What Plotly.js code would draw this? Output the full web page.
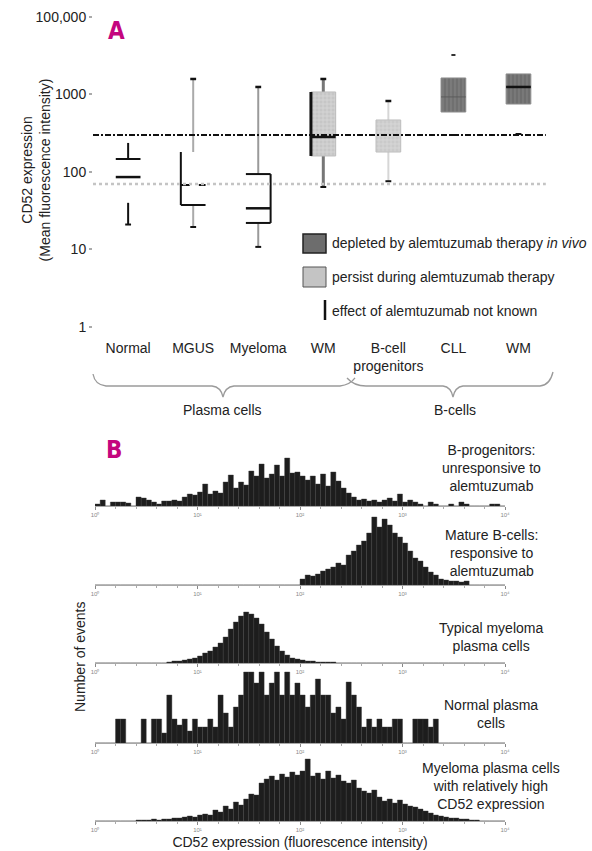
<!DOCTYPE html>
<html><head><meta charset="utf-8">
<script src="https://cdn.plot.ly/plotly-3.0.1.min.js"></script>
<style>body{margin:0;background:#fff}#chart{width:592px;height:851px}</style>
</head><body><div id="chart"></div>
<script>
// ---------- Panel A data ----------
const categories = ['Normal','MGUS','Myeloma','WM','B-cell<br>progenitors','CLL','WM'];
const lowerWhisker = [21, 19.5, 10.8, 64, 76, 300, 309];
const q1Values = [40, 37.5, 22, 161, 181, 594, 753];
const medianValues = [86, 68, 34, 283, null, 930, 1250];
const q3Values = [147, 181, 94, 1077, 469, 1633, 1840];
const upperWhisker = [237, 1585, 1250, 1585, 824, null, null];
const outlierValues = [null, null, null, null, null, 3230, null];
const therapyEffect = ['unknown','unknown','unknown','persist','persist','depleted','depleted'];
const refHigh = 300;
const refLow = 70;
const yTickVals = [1, 10, 100, 1000, 10000];
const yTickText = ['1', '10', '100', '1000', '100,000'];

// ---------- Panel B data (events per log-intensity bin, 80 bins over 10^0..10^4) ----------
const histTickText = ['10\u2070','10\u00b9','10\u00b2','10\u00b3','10\u2074'];
const bProgenitors = [2,6,0,4,4,4,3,0,9,8, 6,4,2,5,5,6,5,9,12,11, 14,22,12,15,13,24,31,18,24,21,
  35,30,42,28,32,41,30,48,33,34, 30,26,30,22,32,20,34,25,18,13, 9,6,7,5,6,4,6,8,5,12,
  4,6,4,2,0,4,2,0,0,2, 0,4,2,0,0,0,0,2,2,0];
const matureBCells = [0,0,0,0,0,0,0,0,0,0, 0,0,0,0,0,0,0,0,0,0, 0,0,0,0,0,0,0,0,0,0,
  0,0,0,0,0,0,0,0,0,0, 6,10,9,11,14,16,18,22,20,30, 34,40,44,52,68,58,66,60,52,48,
  42,34,27,24,18,13,10,6,5,4, 4,3,4,0,0,0,0,0,0,0];
const typicalMyeloma = [0,0,0,0,0,0,0,0,0,0, 0,0,0,0,1,2,2,3,4,5, 7,10,12,16,20,26,34,41,47,51,
  49,45,39,31,24,17,12,8,5,4, 3,2,2,1,1,1,1,0,0,0, 0,0,0,0,0,0,0,0,0,0,
  0,0,0,0,0,0,0,0,0,0, 0,0,0,0,0,0,0,0,0,0];
const normalPlasma = [0,0,0,0,24,24,0,0,0,24, 0,24,24,10,48,24,18,24,12,24, 16,16,24,16,48,30,16,36,48,71,
  71,60,71,48,60,71,48,71,48,60, 48,36,48,64,48,48,30,36,24,61, 48,36,16,24,16,24,16,16,24,24,
  0,0,24,24,24,16,24,0,0,0, 0,0,0,0,0,0,0,0,0,0];
const highCD52Myeloma = [0,0,0,0,0,0,0,0,1,1, 1,2,1,2,2,3,3,4,5,4, 6,7,6,11,9,15,12,19,16,22,
  27,26,38,42,45,41,47,44,49,46, 50,62,45,48,42,50,43,46,40,38, 41,33,30,28,31,24,20,22,18,21,
  17,15,14,12,10,8,6,5,4,3, 3,2,2,1,1,0,0,0,0,0];
const histSeries = [bProgenitors, matureBCells, typicalMyeloma, normalPlasma, highCD52Myeloma];
const histLabels = [
  'B-progenitors:<br>unresponsive to<br>alemtuzumab',
  'Mature B-cells:<br>responsive to<br>alemtuzumab',
  'Typical myeloma<br>plasma cells',
  'Normal plasma<br>cells',
  'Myeloma plasma cells<br>with relatively high<br>CD52 expression'
];

// ---------- helpers ----------
const FW = 592, FH = 851;
const FONT = '"Liberation Sans", Arial, sans-serif';
const px = x => x / FW;
const py = y => 1 - y / FH;
const traces = [];

function seg(xs, ys, color, width, dash) {
  traces.push({type:'scatter', mode:'lines', x:xs, y:ys, xaxis:'x', yaxis:'y',
    line:{color:color, width:width, dash:dash || 'solid'}, hoverinfo:'skip', showlegend:false});
}

// styling per category (not data)
const boxStyle = [
  {fill:null, whisker:'#111', lines:['q3','median'], edge:null, upperCap:false},
  {fill:null, whisker:'#aaa', lines:['q1','medianDash'], edge:'left', upperCap:true},
  {fill:null, whisker:'#9a9a9a', lines:['q3','median','q1'], edge:'right', upperCap:true},
  {fill:'#c6c6c6', pat:'+', fg:'#d8d8d8', edgeLine:'#bbb', whisker:'#777', lines:['median'], edge:'left', upperCap:true},
  {fill:'#cacaca', pat:'+', fg:'#dadada', edgeLine:'#bdbdbd', whisker:'#d6d6d6', lines:[], edge:null, upperCap:true},
  {fill:'#707070', pat:'|', fg:'#7f7f7f', edgeLine:'#8c8c8c', whisker:null, lines:['medianFaint'], edge:null, upperCap:false},
  {fill:'#6e6e6e', pat:'|', fg:'#7d7d7d', edgeLine:'#8c8c8c', whisker:null, lines:['median'], edge:null, upperCap:false}
];
const W = 0.19, CAP = 0.045;

categories.forEach((c, i) => {
  const s = boxStyle[i];
  const q1 = q1Values[i], q3 = q3Values[i], med = medianValues[i];
  if (s.whisker) {
    if (upperWhisker[i] != null) seg([i, i], [q3, upperWhisker[i]], s.whisker, i === 3 ? 3 : 2);
    if (lowerWhisker[i] != null) seg([i, i], [q1, lowerWhisker[i]], s.whisker, i === 3 ? 3 : 2);
  }
  if (s.fill) {
    traces.push({type:'scatter', mode:'lines', x:[i-W, i+W, i+W, i-W, i-W], y:[q1, q1, q3, q3, q1],
      xaxis:'x', yaxis:'y', fill:'toself', fillcolor:s.fill,
      fillpattern:{shape:s.pat, bgcolor:s.fill, fgcolor:s.fg, size:4, solidity:0.35},
      line:{color:s.edgeLine, width:1}, hoverinfo:'skip', showlegend:false});
  }
  if (s.edge === 'left') seg([i-W, i-W], [q1, q3], '#111', i === 3 ? 3 : 2);
  if (s.edge === 'right') seg([i+W, i+W], [q1, q3], '#111', 2);
  s.lines.forEach(l => {
    if (l === 'q3') seg([i-W, i+W], [q3, q3], '#111', 2);
    if (l === 'q1') seg([i-W, i+W], [q1, q1], '#111', 2);
    if (l === 'median') seg([i-W, i+W], [med, med], '#111', 2.5);
    if (l === 'medianDash') seg([i-W, i+W], [med, med], '#111', 2, 'dash');
    if (l === 'medianFaint') seg([i-W, i+W], [med, med], '#5c5c5c', 1);
  });
  if (lowerWhisker[i] != null) seg([i-CAP, i+CAP], [lowerWhisker[i], lowerWhisker[i]], '#111', 2);
  if (s.upperCap && upperWhisker[i] != null) seg([i-CAP, i+CAP], [upperWhisker[i], upperWhisker[i]], '#111', 2.5);
  if (outlierValues[i] != null) seg([i-CAP*0.7, i+CAP*0.7], [outlierValues[i], outlierValues[i]], '#333', 2);
});

// reference lines
seg([-0.54, 6.42], [refHigh, refHigh], '#111', 1.8, '6px,2px,2px,2px');
seg([-0.54, 6.42], [refLow, refLow], '#c4c4c4', 2.5, 'dot');

// ---------- Panel B histograms ----------
const binCenters = bProgenitors.map((_, i) => (i + 0.5) * 0.05);
const histPix = [[452, 506], [512, 585], [608, 663], [668, 743], [755, 821]];
histSeries.forEach((arr, k) => {
  traces.push({type:'bar', x:binCenters, y:arr, width:0.05, xaxis:'x' + (k + 2), yaxis:'y' + (k + 2),
    marker:{color:'#1d1d1d', line:{color:'#3a3a3a', width:0.4}}, hoverinfo:'skip', showlegend:false});
});

const layout = {
  width: FW, height: FH,
  margin: {l:0, r:0, t:0, b:0},
  paper_bgcolor:'#fff', plot_bgcolor:'rgba(0,0,0,0)',
  font: {family: FONT, size: 14, color:'#222'},
  bargap: 0,
  showlegend: false,
  xaxis: {domain:[px(93), px(551)], range:[-0.54, 6.5], anchor:'y',
    tickmode:'array', tickvals:categories.map((_, i) => i), ticktext:categories,
    showgrid:false, zeroline:false, showline:false, ticks:'', ticklabelstandoff:8,
    tickfont:{size:14, color:'#222'}},
  yaxis: {domain:[py(330), py(10)], type:'log', range:[-0.0387, 4.09], anchor:'x',
    tickmode:'array', tickvals:yTickVals, ticktext:yTickText,
    showgrid:false, zeroline:false, showline:false, ticks:'outside', ticklen:3, tickwidth:2, tickcolor:'#aaa',
    tickfont:{size:14, color:'#222'},
    title:{text:'CD52 expression<br>(Mean fluorescence intensity)', font:{size:14, color:'#222'}}},
  shapes: [],
  annotations: []
};

histPix.forEach((p, k) => {
  const n = k + 2;
  layout['xaxis' + n] = {domain:[px(95), px(505)], range:[0, 4], anchor:'y' + n,
    tickmode:'array', tickvals:[0,1,2,3,4], ticktext:histTickText,
    showgrid:false, zeroline:false, showline:true, linecolor:'#a8a8a8', linewidth:1,
    ticks:'outside', ticklen:3, tickcolor:'#888', tickfont:{size:6, color:'#8a8a8a'},
    minor:{tickmode:'linear', tick0:0, dtick:0.2, ticks:'outside', ticklen:2, tickcolor:'#aaa'}};
  layout['yaxis' + n] = {domain:[py(p[1]), py(p[0])], range:[0, p[1] - p[0]], anchor:'x' + n, visible:false, fixedrange:true};
});
layout.xaxis6.title = {text:'CD52 expression (fluorescence intensity)', font:{size:14, color:'#222'}, standoff:4};

function note(x, y, text, extra) {
  layout.annotations.push(Object.assign({xref:'paper', yref:'paper', x:px(x), y:py(y), text:text,
    xanchor:'center', yanchor:'middle', showarrow:false, font:{size:14, color:'#222'}}, extra || {}));
}

// legend (panel A)
layout.shapes.push({type:'rect', xref:'paper', yref:'paper', x0:px(303), x1:px(326), y0:py(253), y1:py(234),
  fillcolor:'#6d6d6d', line:{color:'#222', width:1.5}});
layout.shapes.push({type:'rect', xref:'paper', yref:'paper', x0:px(303), x1:px(326), y0:py(287), y1:py(267),
  fillcolor:'#c4c4c4', line:{color:'#555', width:1}});
layout.shapes.push({type:'line', xref:'paper', yref:'paper', x0:px(325), x1:px(325), y0:py(320), y1:py(300),
  line:{color:'#111', width:2.5}});
const legendTexts = ['depleted by alemtuzumab therapy <i>in vivo</i>', 'persist during alemtuzumab therapy', 'effect of alemtuzumab not known'];
[243, 277, 311].forEach((y, k) => note(330, y, legendTexts[k], {xanchor:'left'}));

// braces
function pathStr(cmds) {
  return cmds.map(c => {
    const pts = [];
    for (let j = 1; j < c.length; j += 2) pts.push(px(c[j]).toFixed(5) + ',' + py(c[j + 1]).toFixed(5));
    return c[0] + pts.join(' ');
  }).join(' ');
}
const braceA = [['M',93,374],['Q',95,385,106,386],['L',212,386],['Q',221,387,223,397],['Q',225,387,234,386],['L',340,386],['Q',350,385,355,378]];
const braceB = [['M',347,378],['Q',354,386,366,386],['L',443,386],['Q',451,387,453,397],['Q',455,387,463,386],['L',540,386],['Q',550,385,553,372]];
[braceA, braceB].forEach(b => layout.shapes.push({type:'path', xref:'paper', yref:'paper', path:pathStr(b),
  line:{color:'#9a9a9a', width:1.3}}));
note(222, 410, 'Plasma cells');
note(455, 410, 'B-cells');

// panel letters
const letterFont = {family:'"DejaVu Sans Condensed", "Liberation Sans Narrow", sans-serif', size:24, color:'#c4067e', weight:'bold'};
note(116, 31, '<b>A</b>', {font:letterFont});
note(114, 450, '<b>B</b>', {font:letterFont});

// histogram labels
[468, 553, 637, 714, 786].forEach((y, k) => note(491, y, histLabels[k], {align:'center', font:{size:14, color:'#222'}}));
note(80, 657, 'Number of events', {textangle:-90});

Plotly.newPlot('chart', traces, layout, {staticPlot:true, displayModeBar:false});
</script>
</body></html>
